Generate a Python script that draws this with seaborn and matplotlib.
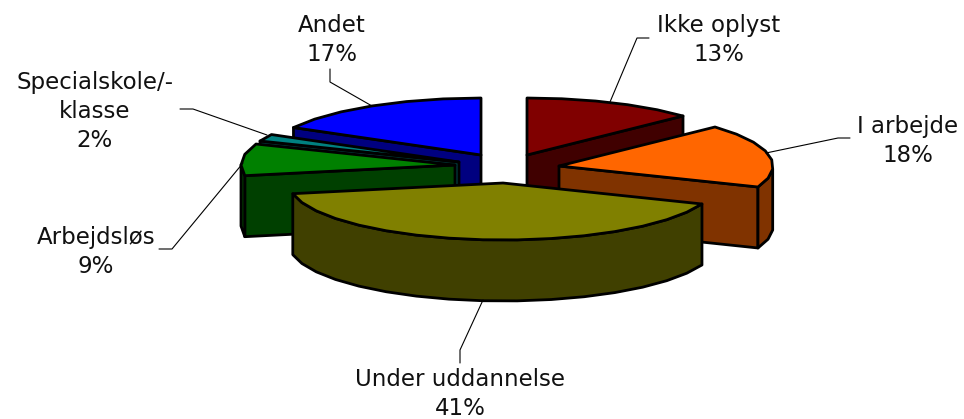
import numpy as np
import matplotlib
matplotlib.use('Agg')
import matplotlib.pyplot as plt
import seaborn as sns

#data
categories = ['Ikke oplyst', 'I arbejde', 'Under uddannelse', 'Arbejdsløs', 'Specialskole/-\nklasse', 'Andet']
shares = [13, 18, 41, 9, 2, 17]
colors = ['#800000', '#FF6600', '#808000', '#008000', '#008080', '#0000FF']

#style, everything in pixels of the 964x419 picture
apex_x = [527, 559, 503, 455, 459, 481]
apex_y = [155, 166, 183, 165, 162, 155]
label_x = [719, 908, 460, 96, 95, 332]
label_y = [61, 162, 415, 273, 147, 61]
leader_x = [[610, 637, 649], [766, 838, 850], [483, 460, 460], [243, 172, 159], [267, 193, 180], [372, 330, 330]]
leader_y = [[102, 38, 38], [153, 138, 138], [300, 350, 363], [163, 249, 249], [135, 109, 109], [106, 82, 69]]
draw_order = [0, 5, 4, 3, 1, 2]
rx = 214
ry = 57
depth = 61

sns.set_theme(style='white')
plt.rcParams['font.family'] = ['DejaVu Sans']

fig, ax = plt.subplots(figsize=(9.64, 4.19), dpi=100)
fig.subplots_adjust(0, 0, 1, 1)
ax.set_xlim(0, 964)
ax.set_ylim(419, 0)
ax.axis('off')


def rim(cx, cy, a, b):
    #coarse steps, the old chart has a visibly angular rim
    t = np.radians(np.linspace(a, b, max(int((b - a) / 9), 1) + 1))
    return cx + rx * np.sin(t), cy - ry * np.cos(t)


def face(xs, ys, color):
    ax.fill(xs, ys, facecolor=color, edgecolor='black', linewidth=2, joinstyle='round')


edges = np.cumsum([0] + shares) * 3.6

for i in draw_order:
    a, b = edges[i], edges[i + 1]
    cx, cy = apex_x[i], apex_y[i]
    top = colors[i]
    side = tuple(c * 0.5 for c in matplotlib.colors.to_rgb(top))
    xt, yt = rim(cx, cy, a, b)

    #sides that look at the viewer
    if 180 < a < 360:
        face([cx, xt[0], xt[0], cx], [cy, yt[0], yt[0] + depth, cy + depth], side)
    if 0 < b < 180:
        face([cx, xt[-1], xt[-1], cx], [cy, yt[-1], yt[-1] + depth, cy + depth], side)
    angle = np.degrees(np.arctan2(xt - cx, cy - yt)) % 360
    front = (angle >= 90) & (angle <= 270)
    if front.sum() > 1:
        xr, yr = xt[front], yt[front]
        face(np.r_[xr, xr[::-1]], np.r_[yr, yr[::-1] + depth], side)

    face(np.r_[cx, xt], np.r_[cy, yt], top)

for i in range(len(categories)):
    ax.plot(leader_x[i], leader_y[i], color='black', linewidth=0.8)
    ax.text(label_x[i], label_y[i], f'{categories[i]}\n{shares[i]}%', ha='center', va='baseline',
            fontsize=16.5, color='#111111', linespacing=1.33)

fig.savefig('out.png', dpi=100)
